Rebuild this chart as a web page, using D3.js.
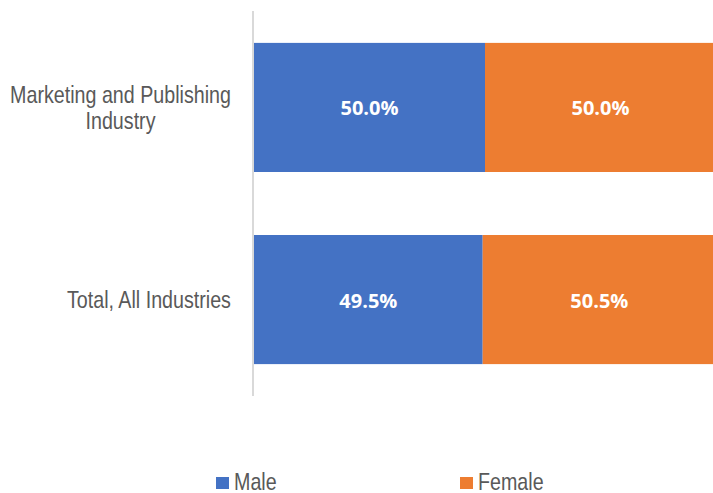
<!DOCTYPE html>
<html>
<head>
<meta charset="utf-8">
<script src="https://cdn.jsdelivr.net/npm/d3@7"></script>
<style>
  html, body { margin: 0; padding: 0; background: #fff; overflow: hidden; }
  svg { display: block; }
  .narrow { font-family: "Liberation Sans", Arial, sans-serif; fill: #595959; }
</style>
</head>
<body>
<svg id="chart" width="713" height="493"></svg>
<script>
const categories = ["Marketing and Publishing\nIndustry", "Total, All Industries"];
const seriesNames = ["Male", "Female"];
const maleValues = [0.500, 0.495];
const femaleValues = [0.500, 0.505];
const colors = ["#4472C4", "#ED7D31"];

const svg = d3.select("#chart");
const NARROW = 0.82;

const x = d3.scaleLinear().domain([0, 1]).range([254, 716]);
const y = d3.scaleBand().domain(categories).range([11, 396]).paddingInner(0.328).paddingOuter(0.166);

const rows = categories.map((c, i) => ({ cat: c, Male: maleValues[i], Female: femaleValues[i] }));
const stack = d3.stack().keys(seriesNames)(rows);

const g = svg.append("g");
stack.forEach((layer, si) => {
  g.selectAll(null).data(layer).enter().append("rect")
    .attr("x", d => x(d[0]))
    .attr("y", d => y(d.data.cat))
    .attr("width", d => x(d[1]) - x(d[0]))
    .attr("height", y.bandwidth())
    .attr("fill", colors[si]);
  g.selectAll(null).data(layer).enter().append("text")
    .attr("x", d => (x(d[0]) + x(d[1])) / 2)
    .attr("y", d => y(d.data.cat) + y.bandwidth() / 2 + 8)
    .attr("text-anchor", "middle")
    .attr("font-family", "'Open Sans', sans-serif")
    .attr("font-weight", "bold")
    .attr("font-size", 20)
    .attr("fill", "#ffffff")
    .text(d => d3.format(".1%")(d[1] - d[0]));
});

// vertical axis line
svg.append("line")
  .attr("x1", 253).attr("x2", 253)
  .attr("y1", 11).attr("y2", 396)
  .attr("stroke", "#d9d9d9").attr("stroke-width", 2);

// category labels (condensed, centre-aligned lines, block right-aligned)
const labelRight = 231;
categories.forEach(c => {
  const lines = c.split("\n");
  const lh = 26;
  const cy = y(c) + y.bandwidth() / 2;
  const firstBase = cy + 8.5 - (lines.length - 1) * lh / 2;
  const grp = svg.append("g");
  const t = grp.append("text").attr("class", "narrow").attr("font-size", 24).attr("text-anchor", "middle");
  const spans = lines.map((l, i) => t.append("tspan").attr("x", 0).attr("y", i * lh).text(l));
  const maxW = d3.max(spans, s => s.node().getComputedTextLength()) * NARROW;
  grp.attr("transform", `translate(${labelRight - maxW / 2},${firstBase}) scale(${NARROW},1)`);
});

// legend
const legendItems = [{ name: "Male", sx: 216 }, { name: "Female", sx: 460 }];
legendItems.forEach((it, i) => {
  svg.append("rect").attr("x", it.sx).attr("y", 477).attr("width", 13).attr("height", 12).attr("fill", colors[i]);
  svg.append("text").attr("class", "narrow").attr("font-size", 24)
    .attr("transform", `translate(${it.sx + 18},490) scale(${NARROW},1)`)
    .text(it.name);
});
</script>
</body>
</html>
